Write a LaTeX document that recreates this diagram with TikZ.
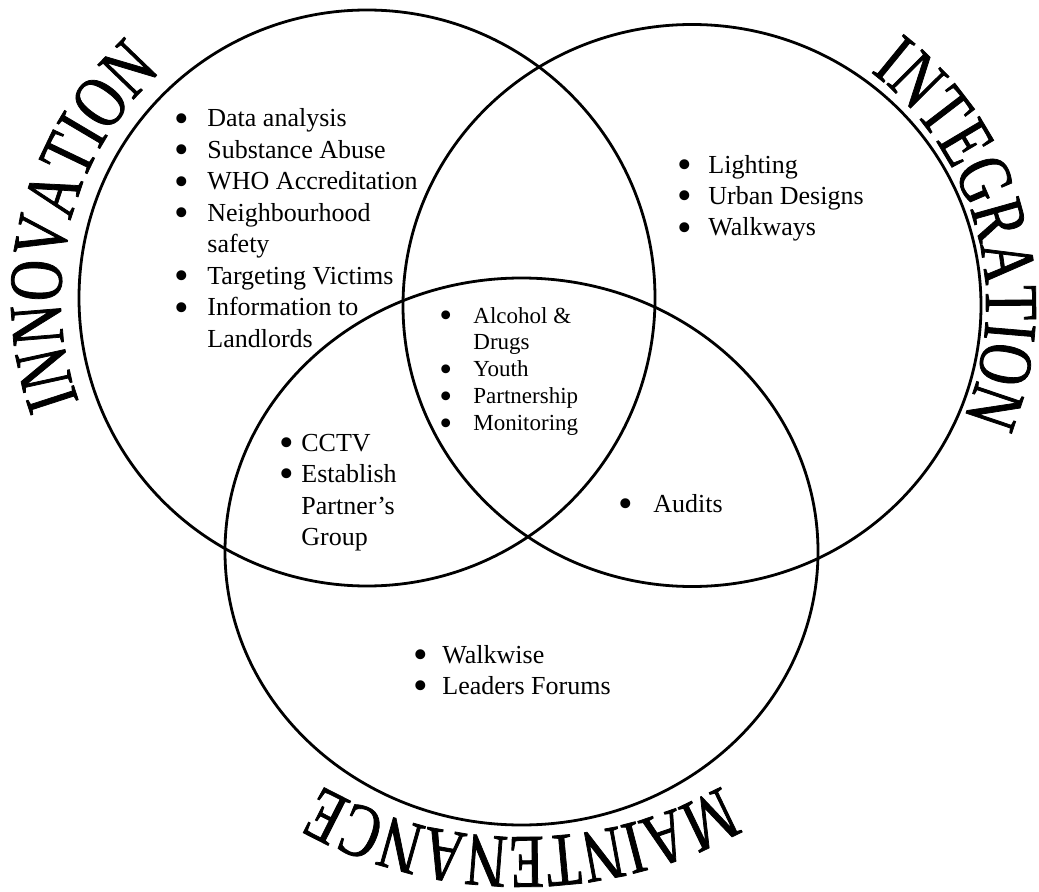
\documentclass[tikz,border=0pt]{standalone}
\usepackage{fontspec}
\setmainfont{Liberation Serif}
\newfontfamily\archfont[FakeStretch=0.75,FakeBold=1]{Liberation Serif}
\usetikzlibrary{decorations.text}

\newcommand{\bul}{\raisebox{-0.21em}{\scalebox{1.6}{\textbullet}}}
\newcommand{\blist}[2]{\begin{tabular}[t]{@{}p{#1}@{}l@{}}#2\end{tabular}}

\begin{document}
\begin{tikzpicture}[x=0.5pt,y=0.5pt,
  ring/.style={line width=1.4pt},
  items/.style={anchor=base west,inner sep=0pt,font=\fontsize{13}{15.75}\selectfont},
  small/.style={items,font=\fontsize{11.5}{13.4}\selectfont},
  arch/.style={decorate,decoration={text along path,text align=center,
    text={|\archfont\fontsize{38}{38}\selectfont|#1}}}]
\useasboundingbox (0,0) rectangle (1039,891);
\coordinate (inno) at (367,593);
\coordinate (inte) at (692,585.5);
\coordinate (main) at (521.5,339.5);
\draw [ring] (inno) circle [radius=288];
\draw [ring] (inte) ellipse [x radius=289, y radius=281];
\draw [ring] (main) ellipse [x radius=296.5, y radius=273.5];
\path [arch=INNOVATION] (inno) ++(226:306) arc [start angle=226, end angle=106, radius=306];
\path [arch=INTEGRATION] (inte) ++(75:294) arc [start angle=75, end angle=-45, radius=294];
\path [arch=MAINTENANCE] (main) ++(-10:350 and 285.5) arc [start angle=-10, end angle=-170, x radius=350, y radius=285.5];
\node [items] (innolist) at (174,764) {\blist{16.5pt}{\bul & Data analysis\\ \bul & Substance Abuse\\ \bul & WHO Accreditation\\ \bul & Neighbourhood\\ & safety\\ \bul & Targeting Victims\\ \bul & Information to\\ & Landlords}};
\node [items] (intelist) at (677,718) {\blist{15.5pt}{\bul & Lighting\\ \bul & Urban Designs\\ \bul & Walkways}};
\node [small] (alllist) at (439,568) {\blist{17pt}{\bul & Alcohol \&\\ & Drugs\\ \bul & Youth\\ \bul & Partnership\\ \bul & Monitoring}};
\node [items] (innomain) at (279,440) {\blist{11pt}{\bul & CCTV\\ \bul & Establish\\ & Partner’s\\ & Group}};
\node [items] (intemain) at (618,379) {\blist{17.5pt}{\bul & Audits}};
\node [items] (mainlist) at (413,228) {\blist{14.5pt}{\bul & Walkwise\\ \bul & Leaders Forums}};
\end{tikzpicture}
\end{document}
